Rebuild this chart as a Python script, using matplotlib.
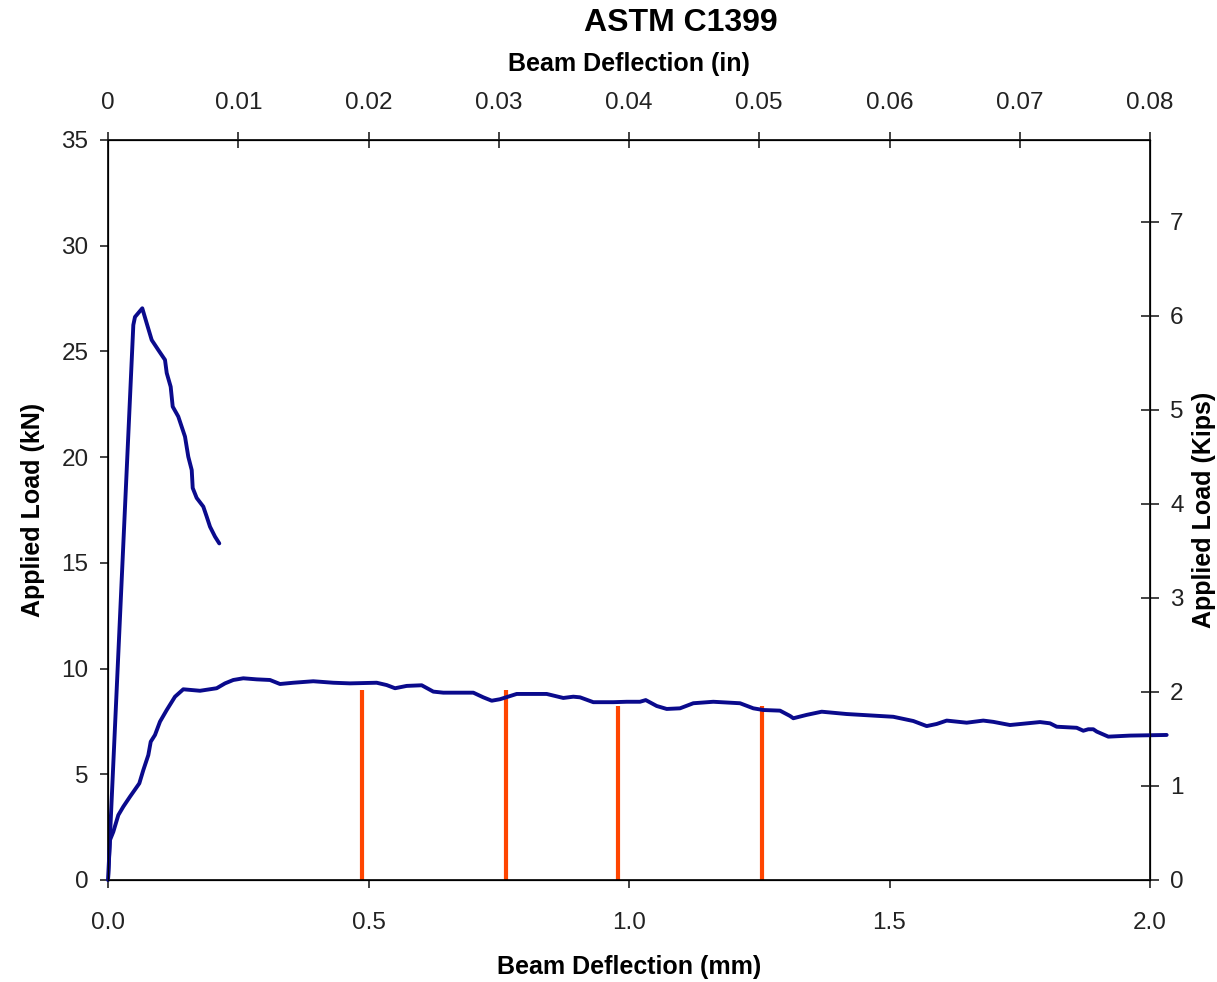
import matplotlib
matplotlib.use("Agg")
import matplotlib.pyplot as plt
import numpy as np

plt.rcParams['font.family'] = ['Liberation Sans', 'DejaVu Sans']

# Pre-crack loading curve (mm, kN)
pre_x = [0.0, 0.0486, 0.0518, 0.0658, 0.0743, 0.0839, 0.0965, 0.1094, 0.1127, 0.1203,
         0.1242, 0.1349, 0.1478, 0.1541, 0.1607, 0.1626, 0.1702, 0.1829, 0.1894, 0.1958,
         0.2054, 0.2136]
pre_y = [0.0, 26.25, 26.63, 27.04, 26.33, 25.54, 25.07, 24.60, 23.98, 23.33,
         22.39, 21.92, 20.97, 20.02, 19.39, 18.54, 18.07, 17.66, 17.19, 16.71,
         16.24, 15.92]

# Reloading curve (mm, kN)
re_x = [0.0, 0.0038, 0.0102, 0.0198, 0.0294, 0.0422, 0.0601, 0.0678, 0.0774, 0.0820,
        0.0902, 0.0998, 0.1127, 0.1286, 0.1445, 0.1766, 0.2086, 0.2246, 0.2405, 0.2597,
        0.2854, 0.3109, 0.3301, 0.3557, 0.3940, 0.4324, 0.4645, 0.5157, 0.5349, 0.5509,
        0.5733, 0.6021, 0.6244, 0.6436, 0.7012, 0.7203, 0.7365, 0.7524, 0.7845, 0.8420,
        0.8739, 0.8931, 0.9060, 0.9315, 0.9699, 0.9956, 1.0211, 1.0321, 1.0532, 1.0724,
        1.0979, 1.1234, 1.1618, 1.2131, 1.2386, 1.2578, 1.2898, 1.3090, 1.3154, 1.3411,
        1.3699, 1.4179, 1.5073, 1.5457, 1.5714, 1.5906, 1.6098, 1.6482, 1.6800, 1.6992,
        1.7313, 1.7889, 1.8081, 1.8209, 1.8593, 1.8720, 1.8816, 1.8912, 1.8977, 1.9200,
        1.9616, 2.0320]
re_y = [0.0, 1.89, 2.28, 3.07, 3.47, 3.94, 4.57, 5.20, 5.91, 6.54,
        6.86, 7.49, 8.04, 8.67, 9.02, 8.95, 9.07, 9.30, 9.46, 9.54,
        9.49, 9.46, 9.27, 9.33, 9.40, 9.33, 9.30, 9.33, 9.22, 9.07,
        9.18, 9.21, 8.91, 8.86, 8.86, 8.64, 8.48, 8.55, 8.80, 8.80,
        8.61, 8.67, 8.64, 8.41, 8.41, 8.43, 8.43, 8.51, 8.23, 8.09,
        8.12, 8.36, 8.43, 8.36, 8.12, 8.04, 8.01, 7.76, 7.65, 7.81,
        7.96, 7.85, 7.72, 7.52, 7.28, 7.38, 7.54, 7.44, 7.54, 7.48,
        7.33, 7.47, 7.41, 7.25, 7.20, 7.06, 7.13, 7.13, 7.02, 6.78,
        6.83, 6.86]

# Residual strength marker lines (mm, kN)
mark_x = [0.487, 0.764, 0.978, 1.255]
mark_y = [9.0, 9.0, 8.25, 8.25]

bottom_ticks = [0.0, 0.5, 1.0, 1.5, 2.0]
bottom_labels = ["0.0", "0.5", "1.0", "1.5", "2.0"]
left_ticks = [0, 5, 10, 15, 20, 25, 30, 35]
top_ticks = [0, 0.01, 0.02, 0.03, 0.04, 0.05, 0.06, 0.07, 0.08]
top_labels = ["0", "0.01", "0.02", "0.03", "0.04", "0.05", "0.06", "0.07", "0.08"]
right_ticks = [0, 1, 2, 3, 4, 5, 6, 7]

KN_PER_KIP = 4.448

fig = plt.figure(figsize=(12.17, 9.82), dpi=100)
ax = fig.add_axes([108/1217, 1-880/982, (1150-108)/1217, (880-140)/982])

navy = '#0A0A8C'
ax.plot(pre_x, pre_y, color=navy, lw=2.8, solid_capstyle='round', solid_joinstyle='round', zorder=3)
ax.plot(re_x, re_y, color=navy, lw=2.8, solid_capstyle='round', solid_joinstyle='round',
        clip_on=False, zorder=3)
ax.vlines(mark_x, 0, mark_y, color='#FF4500', lw=3.0, zorder=2)

ax.set_xlim(0, 2.0)
ax.set_ylim(0, 35)
ax.set_xticks(bottom_ticks)
ax.set_xticklabels(bottom_labels)
ax.set_yticks(left_ticks)
ax.tick_params(axis='both', direction='out', length=6, width=1.2, labelsize=17.5, colors='#222222')
ax.tick_params(axis='x', pad=17)
ax.tick_params(axis='y', pad=8)
for s in ax.spines.values():
    s.set_linewidth(1.2)

ax.set_xlabel("Beam Deflection (mm)", fontsize=18, fontweight='bold', labelpad=15)
ax.set_ylabel("Applied Load (kN)", fontsize=18, fontweight='bold', labelpad=12)

# Top axis in inches
axt = ax.twiny()
axt.set_xlim(0, 0.08)
axt.set_xticks(top_ticks)
axt.set_xticklabels(top_labels)
axt.tick_params(axis='x', direction='inout', length=11, width=1.2, labelsize=17.5,
                pad=13, colors='#222222')
axt.set_xlabel("Beam Deflection (in)", fontsize=18, fontweight='bold', labelpad=15)

# Right axis in kips
axr = ax.twinx()
axr.set_ylim(0, 35 / KN_PER_KIP)
axr.set_yticks(right_ticks)
axr.tick_params(axis='y', direction='inout', length=13, width=1.2, labelsize=17.5,
                pad=8, colors='#222222')
axr.set_ylabel("Applied Load (Kips)", fontsize=18, fontweight='bold', labelpad=6)

fig.text(681/1217, 1-23/982, "ASTM C1399", fontsize=23, fontweight='bold',
         ha='center', va='center')

fig.savefig("out.png", dpi=100)
